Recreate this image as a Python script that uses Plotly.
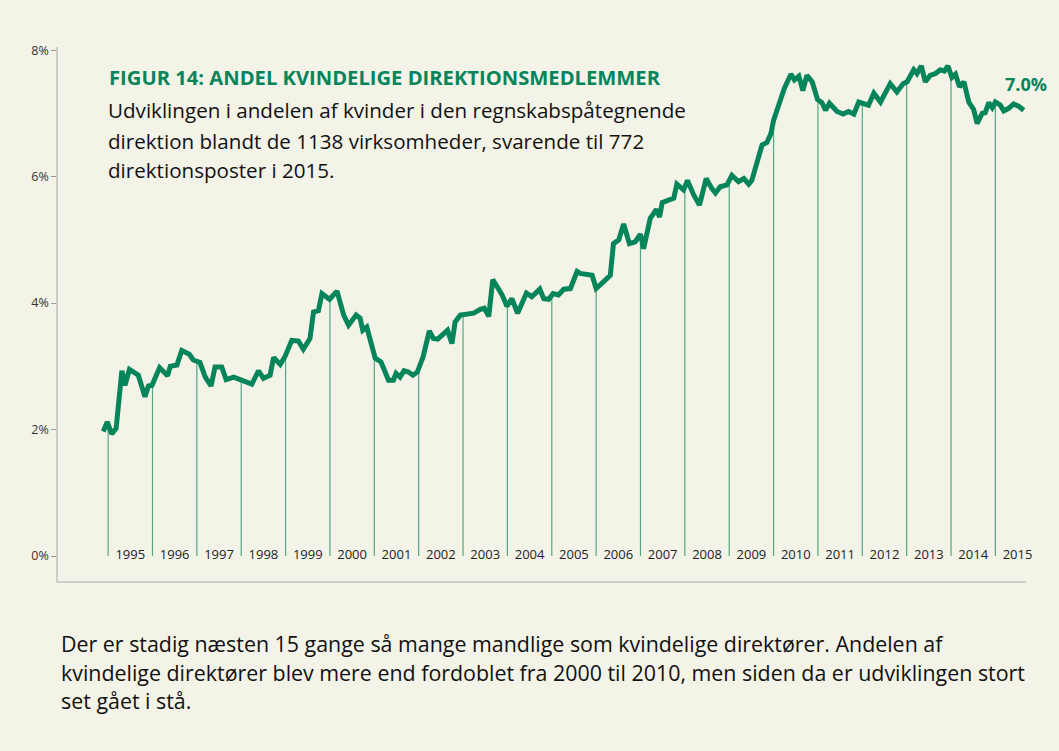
import numpy as np
import plotly.graph_objects as go

# ---- data (share of women in executive boards, %) ----
t = [1994.89, 1994.98, 1995.08, 1995.18, 1995.31, 1995.38, 1995.48, 1995.68, 1995.83, 1995.91, 1995.99,
     1996.16, 1996.34, 1996.40, 1996.55, 1996.66, 1996.83, 1996.92,
     1997.07, 1997.19, 1997.32, 1997.41, 1997.56, 1997.66, 1997.83,
     1998.01, 1998.24, 1998.39, 1998.50, 1998.65, 1998.73, 1998.88, 1998.99,
     1999.14, 1999.29, 1999.40, 1999.55, 1999.63, 1999.74, 1999.82, 1999.99,
     2000.16, 2000.31, 2000.42, 2000.59, 2000.68, 2000.74, 2000.83, 2000.95,
     2001.02, 2001.15, 2001.32, 2001.43, 2001.49, 2001.58, 2001.67, 2001.77, 2001.87, 2001.97,
     2002.10, 2002.24, 2002.33, 2002.43, 2002.52, 2002.65, 2002.75, 2002.82, 2002.94,
     2003.09, 2003.24, 2003.39, 2003.48, 2003.58, 2003.67, 2003.76, 2003.88, 2003.99,
     2004.10, 2004.23, 2004.43, 2004.55, 2004.73, 2004.82, 2004.93,
     2005.03, 2005.15, 2005.27, 2005.42, 2005.57, 2005.64, 2005.91,
     2006.00, 2006.17, 2006.32, 2006.39, 2006.51, 2006.62, 2006.75, 2006.88,
     2007.00, 2007.07, 2007.22, 2007.36, 2007.43, 2007.49, 2007.63, 2007.75, 2007.82, 2007.97,
     2008.06, 2008.20, 2008.33, 2008.48, 2008.61, 2008.69, 2008.80, 2008.95,
     2009.06, 2009.21, 2009.33, 2009.44, 2009.51, 2009.63, 2009.74, 2009.85, 2009.94,
     2010.00, 2010.11, 2010.24, 2010.39, 2010.47, 2010.57, 2010.66, 2010.75, 2010.87, 2010.99,
     2011.09, 2011.17, 2011.26, 2011.43, 2011.57, 2011.69, 2011.81, 2011.92,
     2012.03, 2012.14, 2012.26, 2012.41, 2012.63, 2012.78, 2012.92,
     2013.01, 2013.16, 2013.23, 2013.33, 2013.42, 2013.53, 2013.65, 2013.76, 2013.85, 2013.93,
     2014.02, 2014.10, 2014.19, 2014.29, 2014.40, 2014.51, 2014.59, 2014.70, 2014.77, 2014.85, 2014.93,
     2015.00, 2015.11, 2015.19, 2015.30, 2015.41, 2015.53, 2015.64]

share = [1.97, 2.12, 1.93, 2.02, 2.93, 2.70, 2.95, 2.86, 2.52, 2.69, 2.70,
         2.98, 2.85, 3.00, 3.02, 3.25, 3.19, 3.10,
         3.06, 2.83, 2.69, 2.99, 2.99, 2.79, 2.83,
         2.78, 2.72, 2.93, 2.81, 2.86, 3.14, 3.03, 3.16,
         3.41, 3.40, 3.27, 3.44, 3.86, 3.88, 4.15, 4.06,
         4.19, 3.81, 3.65, 3.81, 3.76, 3.57, 3.62, 3.26,
         3.13, 3.07, 2.78, 2.78, 2.89, 2.83, 2.93, 2.91, 2.86, 2.91,
         3.15, 3.56, 3.44, 3.43, 3.49, 3.57, 3.36, 3.70, 3.81,
         3.83, 3.84, 3.90, 3.92, 3.79, 4.37, 4.27, 4.13, 3.95,
         4.07, 3.84, 4.16, 4.10, 4.22, 4.07, 4.06,
         4.15, 4.13, 4.22, 4.23, 4.50, 4.47, 4.44,
         4.23, 4.34, 4.44, 4.94, 5.00, 5.25, 4.94, 4.97,
         5.09, 4.86, 5.34, 5.48, 5.36, 5.59, 5.63, 5.66, 5.88, 5.79,
         5.94, 5.71, 5.55, 5.97, 5.81, 5.74, 5.84, 5.87,
         6.02, 5.92, 5.97, 5.88, 5.94, 6.21, 6.50, 6.54, 6.68,
         6.89, 7.13, 7.39, 7.62, 7.53, 7.59, 7.36, 7.60, 7.50, 7.22,
         7.17, 7.05, 7.16, 7.03, 6.99, 7.03, 6.99, 7.18,
         7.15, 7.13, 7.32, 7.18, 7.47, 7.34, 7.47,
         7.50, 7.69, 7.63, 7.75, 7.50, 7.60, 7.63, 7.69, 7.67, 7.75,
         7.57, 7.62, 7.42, 7.50, 7.18, 7.06, 6.84, 7.00, 7.01, 7.17, 7.09,
         7.18, 7.13, 7.04, 7.08, 7.15, 7.11, 7.05]

years = list(range(1995, 2016))
y_ticks = [0, 2, 4, 6, 8]
y_tick_labels = ["0%", "2%", "4%", "6%", "8%"]
last_label = "7.0%"

title = "FIGUR 14: ANDEL KVINDELIGE DIREKTIONSMEDLEMMER"
subtitle = ["Udviklingen i andelen af kvinder i den regnskabspåtegnende",
            "direktion blandt de 1138 virksomheder, svarende til 772",
            "direktionsposter i 2015."]
body = ["Der er stadig næsten 15 gange så mange mandlige som kvindelige direktører. Andelen af",
        "kvindelige direktører blev mere end fordoblet fra 2000 til 2010, men siden da er udviklingen stort",
        "set gået i stå."]

# ---- style ----
BG = "#f4f3e8"
GREEN = "#06845a"
DROP = "#52a985"
W, H = 1059, 751
ML, MR, MT, MB = 58, 33, 47, 170
FONT = "Open Sans"

fig = go.Figure()

# drop lines at each year boundary, from the series down to zero
tops = np.interp(years, t, share)
dx, dy = [], []
for yr, top in zip(years, tops):
    dx += [yr, yr, None]
    dy += [0, top, None]
fig.add_trace(go.Scatter(x=dx, y=dy, mode="lines",
                         line=dict(color=DROP, width=1.2),
                         hoverinfo="skip", showlegend=False))

# main series
fig.add_trace(go.Scatter(x=t, y=share, mode="lines",
                         line=dict(color=GREEN, width=5),
                         cliponaxis=False, showlegend=False))

# year labels
fig.add_trace(go.Scatter(x=[yr + 0.5 for yr in years], y=[0] * len(years),
                         mode="text", text=[str(yr) for yr in years],
                         textfont=dict(family=FONT, size=13, color="#222222"),
                         textposition="middle center", cliponaxis=False,
                         hoverinfo="skip", showlegend=False))

pw = W - ML - MR
ph = H - MT - MB


def px(x):
    return (x - ML) / pw


def py(y):
    return (H - MB - y) / ph


ann = []
ann.append(dict(text=f"<b>{title}</b>", x=px(107), y=py(77), xref="paper", yref="paper",
                xanchor="left", yanchor="middle", showarrow=False,
                font=dict(family=FONT, size=20.2, color=GREEN)))
for txt, yy in zip(subtitle, [110, 141, 170]):
    ann.append(dict(text=txt, x=px(106), y=py(yy), xref="paper", yref="paper",
                    xanchor="left", yanchor="middle", showarrow=False,
                    font=dict(family=FONT, size=20.6, color="#111111")))
for txt, yy in zip(body, [643, 672, 700]):
    ann.append(dict(text=txt, x=px(59), y=py(yy), xref="paper", yref="paper",
                    xanchor="left", yanchor="middle", showarrow=False,
                    font=dict(family=FONT, size=21.4, color="#111111")))
ann.append(dict(text=f"<b>{last_label}</b>", x=px(1026), y=py(84), xref="paper", yref="paper",
                xanchor="center", yanchor="middle", showarrow=False,
                font=dict(family=FONT, size=18, color=GREEN)))

fig.update_layout(
    width=W, height=H,
    paper_bgcolor=BG, plot_bgcolor=BG,
    margin=dict(l=ML, r=MR, t=MT, b=MB, pad=0),
    annotations=ann,
    xaxis=dict(range=[1993.87, 2015.69], showgrid=False, zeroline=False,
               showticklabels=False, ticks="", showline=True,
               linecolor="#cfcec6", linewidth=1.5, mirror=False),
    yaxis=dict(range=[-0.395, 8.05], showgrid=False, zeroline=False,
               tickvals=y_ticks, ticktext=y_tick_labels, ticks="outside",
               ticklen=5, tickcolor="#9a9a9a", tickwidth=1,
               tickfont=dict(family=FONT, size=12.5, color="#333333"),
               showline=True, linecolor="#cfcec6", linewidth=1.5),
)

fig.write_html("out.html",
               config={"displayModeBar": False},
               post_script="document.body.style.margin='0';"
                           "document.body.style.background='#f4f3e8';")
